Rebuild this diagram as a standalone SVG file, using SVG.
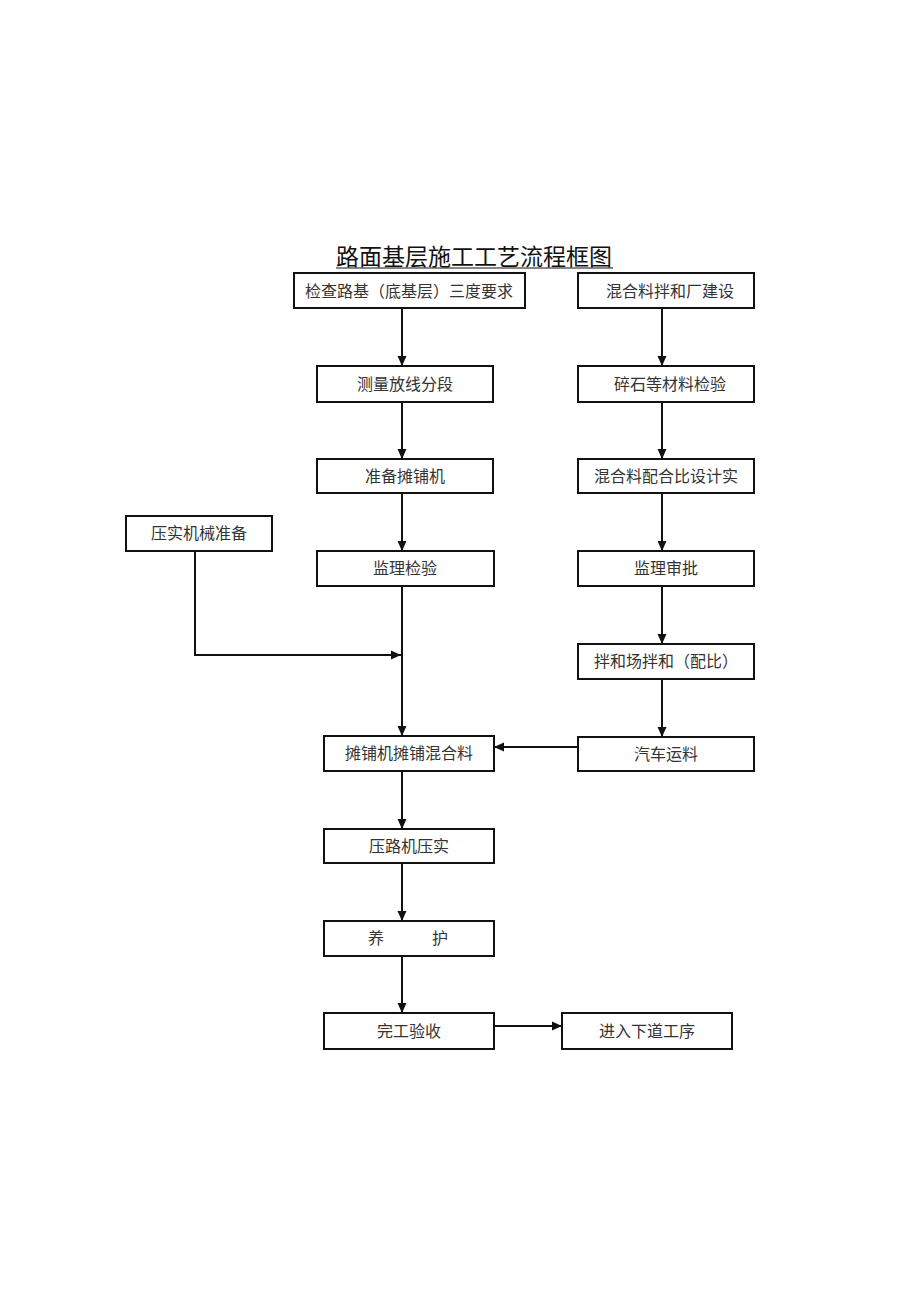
<svg xmlns="http://www.w3.org/2000/svg" width="920" height="1301" viewBox="0 0 920 1301">
<style>
.box{fill:#fff;stroke:#111;stroke-width:2}
.t{font-family:"Noto Sans CJK SC","Liberation Serif",serif;font-size:16px;fill:#333;text-anchor:middle}
.title{font-family:"Noto Sans CJK SC","Liberation Serif",serif;font-size:23px;fill:#111}
.c{fill:none;stroke:#111;stroke-width:2}
</style>
<defs>
<marker id="ah" viewBox="0 0 10 10" refX="10" refY="5" markerWidth="10" markerHeight="10" markerUnits="userSpaceOnUse" orient="auto">
<path d="M0,0.5 L10,5 L0,9.5 Z" fill="#111"/>
</marker>
</defs>
<rect width="920" height="1301" fill="#fff"/>
<g id="title">
<text class="title" x="336" y="265">路面基层施工工艺流程框图</text>
<line x1="336" y1="268" x2="613" y2="268" stroke="#111" stroke-width="1.2"/>
</g>
<g id="connectors">
<line class="c" x1="402" y1="308" x2="402" y2="366" marker-end="url(#ah)"/>
<line class="c" x1="402" y1="402" x2="402" y2="459" marker-end="url(#ah)"/>
<line class="c" x1="402" y1="493" x2="402" y2="551" marker-end="url(#ah)"/>
<line class="c" x1="402" y1="586" x2="402" y2="736" marker-end="url(#ah)"/>
<polyline class="c" points="195,551 195,655 401,655" marker-end="url(#ah)"/>
<line class="c" x1="402" y1="771" x2="402" y2="829" marker-end="url(#ah)"/>
<line class="c" x1="402" y1="863" x2="402" y2="921" marker-end="url(#ah)"/>
<line class="c" x1="402" y1="956" x2="402" y2="1013" marker-end="url(#ah)"/>
<line class="c" x1="494" y1="1026" x2="562" y2="1026" marker-end="url(#ah)"/>
<line class="c" x1="662" y1="308" x2="662" y2="366" marker-end="url(#ah)"/>
<line class="c" x1="662" y1="402" x2="662" y2="459" marker-end="url(#ah)"/>
<line class="c" x1="662" y1="493" x2="662" y2="551" marker-end="url(#ah)"/>
<line class="c" x1="662" y1="586" x2="662" y2="644" marker-end="url(#ah)"/>
<line class="c" x1="662" y1="679" x2="662" y2="737" marker-end="url(#ah)"/>
<line class="c" x1="578" y1="747" x2="494" y2="747" marker-end="url(#ah)"/>
</g>
<g id="n1"><rect class="box" x="294" y="273" width="231" height="35"/><text class="t" x="409" y="297">检查路基（底基层）三度要求</text></g>
<g id="n2"><rect class="box" x="317" y="366" width="176" height="36"/><text class="t" x="405" y="390">测量放线分段</text></g>
<g id="n3"><rect class="box" x="317" y="459" width="176" height="34"/><text class="t" x="405" y="482">准备摊铺机</text></g>
<g id="n4"><rect class="box" x="317" y="551" width="177" height="35"/><text class="t" x="405" y="574">监理检验</text></g>
<g id="n5"><rect class="box" x="126" y="516" width="146" height="35"/><text class="t" x="199" y="539">压实机械准备</text></g>
<g id="n6"><rect class="box" x="324" y="736" width="170" height="35"/><text class="t" x="409" y="759">摊铺机摊铺混合料</text></g>
<g id="n7"><rect class="box" x="324" y="829" width="170" height="34"/><text class="t" x="409" y="852">压路机压实</text></g>
<g id="n8"><rect class="box" x="324" y="921" width="170" height="35"/><text class="t" x="408" y="944">养　　　护</text></g>
<g id="n9"><rect class="box" x="324" y="1013" width="170" height="36"/><text class="t" x="409" y="1037">完工验收</text></g>
<g id="n10"><rect class="box" x="562" y="1013" width="170" height="36"/><text class="t" x="647" y="1037">进入下道工序</text></g>
<g id="r1"><rect class="box" x="578" y="273" width="176" height="35"/><text class="t" x="670" y="297">混合料拌和厂建设</text></g>
<g id="r2"><rect class="box" x="578" y="366" width="176" height="36"/><text class="t" x="670" y="390">碎石等材料检验</text></g>
<g id="r3"><rect class="box" x="578" y="459" width="176" height="34"/><text class="t" x="666" y="482">混合料配合比设计实</text></g>
<g id="r4"><rect class="box" x="578" y="551" width="176" height="35"/><text class="t" x="666" y="574">监理审批</text></g>
<g id="r5"><rect class="box" x="578" y="644" width="176" height="35"/><text class="t" x="666" y="667">拌和场拌和（配比）</text></g>
<g id="r6"><rect class="box" x="578" y="737" width="176" height="34"/><text class="t" x="666" y="760">汽车运料</text></g>
</svg>
